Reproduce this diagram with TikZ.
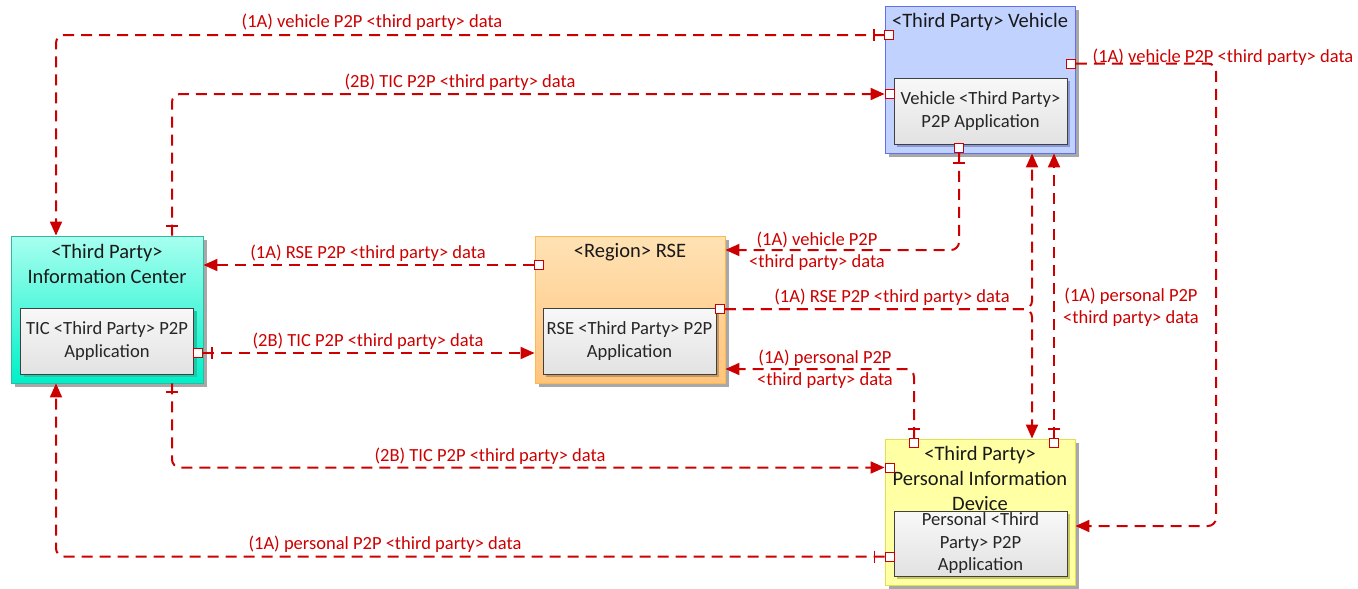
\documentclass[tikz,border=0pt]{standalone}
\usepackage{fontspec}
\setmainfont{Carlito}
\usetikzlibrary{arrows.meta,shadows,calc}

\definecolor{flowred}{HTML}{CC0000}
\definecolor{boxshade}{HTML}{A8A8A8}
\definecolor{apptop}{HTML}{F8F8F8}
\definecolor{appbot}{HTML}{E2E2E2}
\definecolor{appedge}{HTML}{404040}
\definecolor{ticedge}{HTML}{30B8A0}
\definecolor{tictop}{HTML}{A8FFF0}
\definecolor{ticbot}{HTML}{00F0C8}
\definecolor{ticshade}{HTML}{20C8A8}
\definecolor{vehedge}{HTML}{6070F0}
\definecolor{vehfill}{HTML}{C2D2FF}
\definecolor{vehshade}{HTML}{8898D8}
\definecolor{rseedge}{HTML}{FFB850}
\definecolor{rsetop}{HTML}{FFE2B4}
\definecolor{rsebot}{HTML}{FFC47C}
\definecolor{rseshade}{HTML}{C89860}
\definecolor{pidedge}{HTML}{E0E050}
\definecolor{pidfill}{HTML}{FFFFA4}
\definecolor{pidshade}{HTML}{C8C860}

\newcommand\boxtitlefont{\fontsize{20.5}{24.5}\selectfont}
\newcommand\apptextfont{\fontsize{18.6}{22.5}\selectfont}
\newcommand\flowlabelfont{\fontsize{18.5}{21.5}\selectfont}

\tikzset{
  unitbox/.style={line width=0.9pt, inner sep=0pt,
    drop shadow={shadow xshift=4pt,shadow yshift=-4pt,fill=boxshade,opacity=1}},
  appbox/.style={draw=appedge, line width=1pt, top color=apptop, bottom color=appbot,
    inner sep=0pt, minimum width=173pt, minimum height=66pt, align=center,
    font=\apptextfont, text=black!85,
    drop shadow={shadow xshift=3pt,shadow yshift=-3pt,fill=#1,opacity=1}},
  boxtitle/.style={font=\boxtitlefont, align=center, inner sep=0pt, text=black!90},
  port/.style={draw=flowred, fill=white, line width=0.9pt, minimum size=9pt, inner sep=0pt},
  flow/.style={draw=flowred, line width=2pt, dash pattern=on 11pt off 7pt, rounded corners=8pt},
  toarrow/.style={-{Triangle[length=14pt,width=12pt]}},
  tickmark/.style={draw=flowred, line width=1.8pt},
  flowlabel/.style={text=flowred, font=\flowlabelfont, inner sep=0pt, align=center}
}

\begin{document}
\begin{tikzpicture}[x=1pt,y=-1pt]
\useasboundingbox (0,0) rectangle (1358,589);

% ---- component boxes ----
\node[unitbox, draw=ticedge, top color=tictop, bottom color=ticbot,
      minimum width=192pt, minimum height=147pt] (tic) at (107,309.5) {};
\node[boxtitle] (ticT) at (107,264) {<Third Party>\\Information Center};
\node[appbox=ticshade] (ticA) at (107,341) {TIC <Third Party> P2P\\Application};

\node[unitbox, draw=vehedge, fill=vehfill,
      minimum width=190pt, minimum height=147pt] (veh) at (980,79.5) {};
\node[boxtitle] (vehT) at (980,22) {<Third Party> Vehicle};
\node[appbox=vehshade] (vehA) at (980.5,111) {Vehicle <Third Party>\\P2P Application};

\node[unitbox, draw=rseedge, top color=rsetop, bottom color=rsebot,
      minimum width=190pt, minimum height=147pt] (rse) at (630,309.5) {};
\node[boxtitle] (rseT) at (630,252) {<Region> RSE};
\node[appbox=rseshade] (rseA) at (629.5,341) {RSE <Third Party> P2P\\Application};

\node[unitbox, draw=pidedge, fill=pidfill,
      minimum width=190pt, minimum height=146pt] (pid) at (980,512) {};
\node[boxtitle, font=\fontsize{20.5}{25}\selectfont] (pidT) at (980,478) {<Third Party>\\Personal Information\\Device};
\node[appbox=pidshade, minimum height=65pt] (pidA) at (980.5,543.5) {Personal <Third\\Party> P2P\\Application};

% ---- ports ----
\node[port] (pV1) at (889,35) {};
\node[port] (pV2) at (889.5,94) {};
\node[port] (pV3) at (1071,63.5) {};
\node[port] (pV4) at (959,148) {};
\node[port] (pR1) at (539,265) {};
\node[port] (pR2) at (720,309) {};
\node[port] (pT1) at (198,353) {};
\node[port] (pP1) at (914,443) {};
\node[port] (pP2) at (1054,443) {};
\node[port] (pP3) at (889.5,467.5) {};
\node[port] (pP4) at (889.5,556.5) {};

% ---- flows ----
\draw[flow,toarrow] (pV1.west) -| (56,0 |- tic.north);
\draw[flow,toarrow] (172,0 |- tic.north) |- (pV2.west);
\draw[flow,toarrow] (pV3.east) -| (1216,526) -- (pid.east |- 0,526);
\draw[flow,toarrow] (pV4.south) |- (rse.east |- 0,250);
\draw[flow,toarrow] (pR2.east) -| (1032,0 |- pid.north);
\draw[flow,toarrow] (pR2.east) -| (1032,0 |- veh.south);
\draw[flow,toarrow] (pP1.north) |- (rse.east |- 0,369);
\draw[flow,toarrow] (pP2.north) -- (pP2.north |- veh.south);
\draw[flow,toarrow] (pR1.west) -- (tic.east |- pR1);
\draw[flow,toarrow] (pT1.east) -- (rse.west |- pT1);
\draw[flow,toarrow] (172,0 |- tic.south) |- (pP3.west);
\draw[flow,toarrow] (pP4.west) -| (56,0 |- tic.south);

% redraw ports above the line ends
\foreach \p in {pV1,pV2,pV3,pV4,pR1,pR2,pT1,pP1,pP2,pP3,pP4}
  \node[port] at (\p) {};

% ---- ticks near the sending ends ----
\draw[tickmark] ($(pV1)+(-15,-6)$) -- ++(0,12);
\draw[tickmark] ($(pP4)+(-15,-6)$) -- ++(0,12);
\draw[tickmark] ($(pT1)+(14,-6)$) -- ++(0,12);
\draw[tickmark] (166,226) -- (178,226);
\draw[tickmark] (166,392) -- (178,392);
\draw[tickmark] ($(pV4)+(-6,15)$) -- ++(12,0);
\draw[tickmark] ($(pP1)+(-6,-14)$) -- ++(12,0);
\draw[tickmark] ($(pP2)+(-6,-14)$) -- ++(12,0);

% ---- flow labels ----
\node[flowlabel] (l1) at (372,22) {(1A) vehicle P2P <third party> data};
\node[flowlabel] (l2) at (460,82) {(2B) TIC P2P <third party> data};
\node[flowlabel] (l3) at (1223,57) {(1A) vehicle P2P <third party> data};
\node[flowlabel] (l4) at (817,251) {(1A) vehicle P2P\\<third party> data};
\node[flowlabel] (l5) at (892,297) {(1A) RSE P2P <third party> data};
\node[flowlabel] (l6) at (825,369) {(1A) personal P2P\\<third party> data};
\node[flowlabel] (l7) at (1131,307) {(1A) personal P2P\\<third party> data};
\node[flowlabel] (l8) at (368,253) {(1A) RSE P2P <third party> data};
\node[flowlabel] (l9) at (368,341) {(2B) TIC P2P <third party> data};
\node[flowlabel] (l10) at (490,456) {(2B) TIC P2P <third party> data};
\node[flowlabel] (l11) at (385,544) {(1A) personal P2P <third party> data};
\end{tikzpicture}
\end{document}
